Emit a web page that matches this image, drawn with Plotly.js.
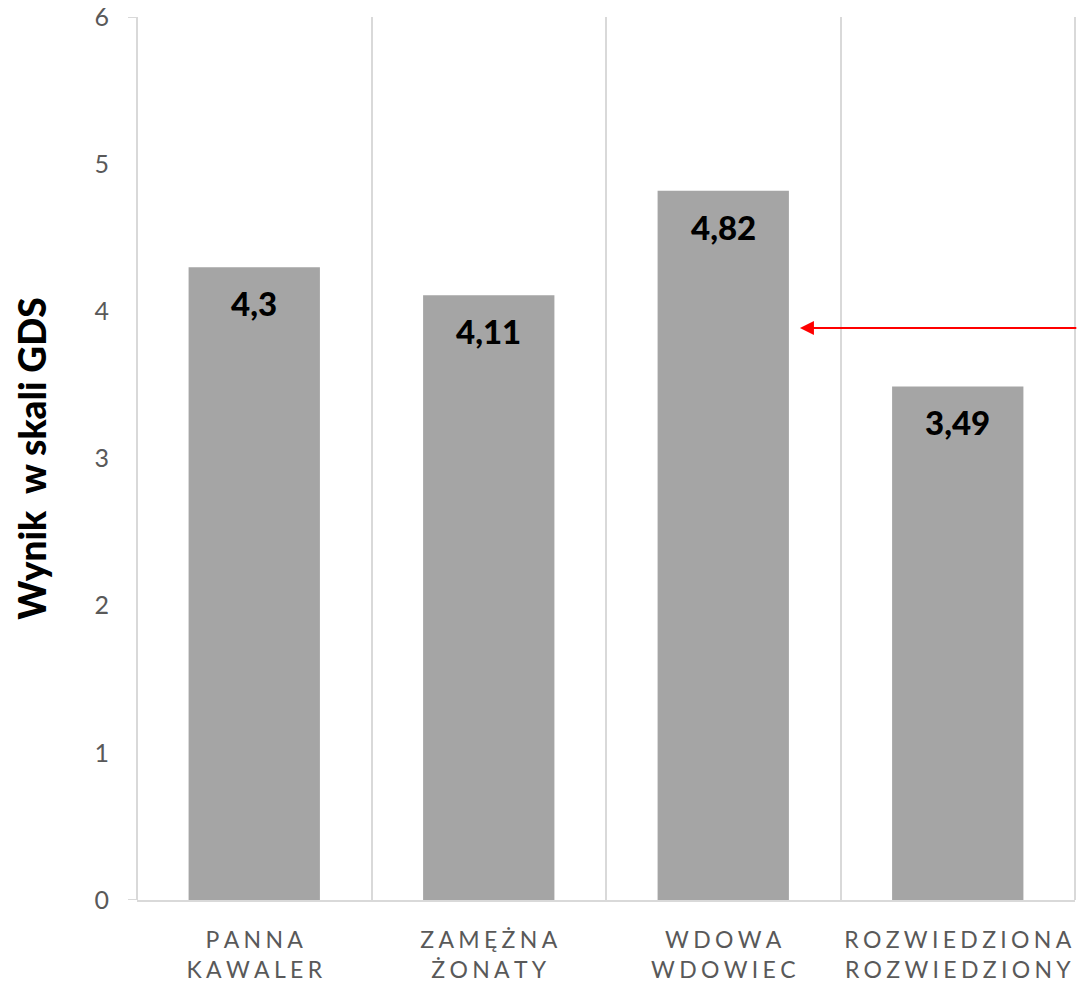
<!DOCTYPE html>
<html>
<head>
<meta charset="utf-8">
<script src="https://cdn.plot.ly/plotly-3.0.1.min.js"></script>
<style>
  html, body { margin: 0; padding: 0; background: #fff; }
  #chart { width: 1077px; height: 989px; }
</style>
</head>
<body>
<div id="chart"></div>
<script>
// Marital status groups (two-line labels) and mean GDS scores
const categories = ['PANNA\nKAWALER', 'ZAMĘŻNA\nŻONATY', 'WDOWA\nWDOWIEC', 'ROZWIEDZIONA\nROZWIEDZIONY'];
const gdsScores = [4.3, 4.11, 4.82, 3.49];
const valueLabels = ['4,3', '4,11', '4,82', '3,49'];
const yTickValues = [0, 1, 2, 3, 4, 5, 6];
const arrowLevel = 3.886;

const FONT = 'Lato, "Open Sans", sans-serif';
const GRID = '#d9d9d9';
const GRID_W = 2;

// spread letters apart with thin spaces, keep line breaks
const spaced = s => s.split('\n')
  .map(line => Array.from(line).join('\u2009\u200A'))
  .join('<br>');

const keys = categories.map((c, i) => 'c' + i);

const trace = {
  type: 'bar',
  x: keys,
  y: gdsScores,
  marker: { color: '#a5a5a5' },
  width: 0.56,
  hoverinfo: 'skip'
};

const labelAnnotations = keys.map((k, i) => ({
  x: k, y: gdsScores[i], xref: 'x', yref: 'y',
  text: valueLabels[i],
  showarrow: false, yanchor: 'middle', yshift: -36,
  font: { family: FONT, size: 33, color: '#000', weight: 900 }
}));

const arrow = {
  xref: 'x', yref: 'y', axref: 'x', ayref: 'y',
  x: 2.327, y: arrowLevel,
  ax: 3.512, ay: arrowLevel,
  text: '', showarrow: true,
  arrowhead: 2, arrowsize: 1.4, arrowwidth: 2, arrowcolor: '#ff0000',
  standoff: 0, startstandoff: 0
};

const edgeLine = (x0, x1, y0, y1) => ({
  type: 'line', xref: 'paper', yref: 'y', x0, x1, y0, y1,
  line: { color: GRID, width: GRID_W }, layer: 'below'
});

const layout = {
  width: 1077, height: 989,
  margin: { l: 137, r: 2, t: 17, b: 89 },
  paper_bgcolor: '#fff', plot_bgcolor: '#fff',
  showlegend: false,
  xaxis: {
    type: 'category',
    tickvals: keys,
    ticktext: categories.map(spaced),
    tickson: 'boundaries',
    tickangle: 0,
    ticks: '',
    showgrid: true, gridcolor: GRID, gridwidth: GRID_W,
    showline: true, linecolor: GRID, linewidth: GRID_W,
    zeroline: false,
    range: [-0.5, 3.5],
    tickfont: { family: FONT, size: 23, color: '#595959' },
    ticklabelstandoff: 18,
    fixedrange: true
  },
  yaxis: {
    range: [0, 6],
    tickvals: yTickValues,
    ticktext: yTickValues.map(String),
    showgrid: false, zeroline: false, showline: false,
    ticks: '',
    ticklabelstandoff: 27,
    tickfont: { family: FONT, size: 25, color: '#595959' },
    title: {
      text: 'Wynik  w skali GDS',
      font: { family: FONT, size: 37, color: '#000', weight: 900 },
      standoff: 36
    },
    fixedrange: true
  },
  shapes: [
    edgeLine(0, 0, 0, 6),
    edgeLine(1, 1, 0, 6),
    edgeLine(-0.0096, 0, 6, 6),
    edgeLine(-0.0096, 0, 0, 0)
  ],
  annotations: labelAnnotations.concat([arrow])
};

Plotly.newPlot('chart', [trace], layout, { displayModeBar: false, staticPlot: true });
</script>
</body>
</html>
